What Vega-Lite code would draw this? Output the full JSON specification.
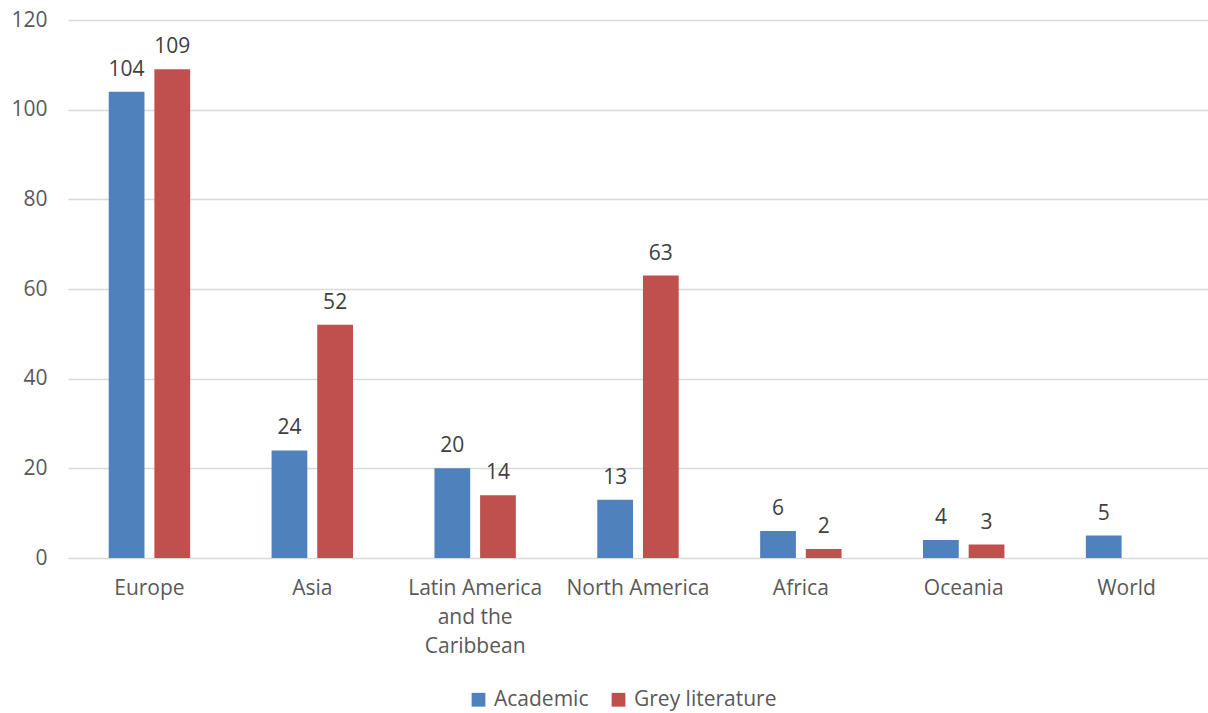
{
  "$schema": "https://vega.github.io/schema/vega-lite/v6.json",
  "width": 1140,
  "height": 538,
  "padding": {"left": 68, "top": 20, "right": 0, "bottom": 155},
  "autosize": {"type": "none"},
  "background": "white",
  "config": {
    "font": "Open Sans",
    "view": {"stroke": null}
  },
  "data": {
    "values": [
      {"region": "Europe", "type": "Academic", "count": 104},
      {"region": "Europe", "type": "Grey literature", "count": 109},
      {"region": "Asia", "type": "Academic", "count": 24},
      {"region": "Asia", "type": "Grey literature", "count": 52},
      {"region": "Latin America and the Caribbean", "type": "Academic", "count": 20},
      {"region": "Latin America and the Caribbean", "type": "Grey literature", "count": 14},
      {"region": "North America", "type": "Academic", "count": 13},
      {"region": "North America", "type": "Grey literature", "count": 63},
      {"region": "Africa", "type": "Academic", "count": 6},
      {"region": "Africa", "type": "Grey literature", "count": 2},
      {"region": "Oceania", "type": "Academic", "count": 4},
      {"region": "Oceania", "type": "Grey literature", "count": 3},
      {"region": "World", "type": "Academic", "count": 5}
    ]
  },
  "encoding": {
    "x": {
      "field": "region",
      "type": "nominal",
      "sort": ["Europe", "Asia", "Latin America and the Caribbean", "North America", "Africa", "Oceania", "World"],
      "scale": {"paddingInner": 0.5, "paddingOuter": 0.25},
      "axis": {
        "title": null,
        "labelAngle": 0,
        "domain": false,
        "ticks": false,
        "labelPadding": 19,
        "labelFont": "Open Sans",
        "labelFontSize": 21,
        "labelColor": "#595959",
        "labelLineHeight": 29,
        "labelBaseline": "top",
        "labelExpr": "datum.value == 'Latin America and the Caribbean' ? ['Latin America', 'and the', 'Caribbean'] : datum.label"
      }
    },
    "xOffset": {
      "field": "type",
      "type": "nominal",
      "scale": {"paddingInner": 0.217, "paddingOuter": 0}
    },
    "y": {
      "field": "count",
      "type": "quantitative",
      "scale": {"domain": [0, 120]},
      "axis": {
        "title": null,
        "values": [0, 20, 40, 60, 80, 100, 120],
        "domain": false,
        "ticks": false,
        "labelPadding": 21,
        "labelFont": "Open Sans",
        "labelFontSize": 21,
        "labelColor": "#595959",
        "gridColor": "#d9d9d9",
        "gridWidth": 1.5
      }
    },
    "color": {
      "field": "type",
      "type": "nominal",
      "scale": {"domain": ["Academic", "Grey literature"], "range": ["#4F81BD", "#C0504D"]},
      "legend": {
        "title": null,
        "orient": "none",
        "legendX": 400,
        "legendY": 669,
        "direction": "horizontal",
        "symbolType": "square",
        "symbolSize": 190,
        "symbolStrokeWidth": 0,
        "labelFontSize": 21,
        "labelColor": "#595959",
        "labelFont": "Open Sans",
        "columnPadding": 19,
        "symbolOffset": 0,
        "labelOffset": 5
      }
    }
  },
  "layer": [
    {"mark": {"type": "bar"}},
    {
      "mark": {"type": "text", "baseline": "alphabetic", "dy": -16, "fontSize": 21, "color": "#404040", "font": "Open Sans"},
      "encoding": {"text": {"field": "count", "type": "quantitative"}, "color": {"value": "#404040"}}
    }
  ]
}
